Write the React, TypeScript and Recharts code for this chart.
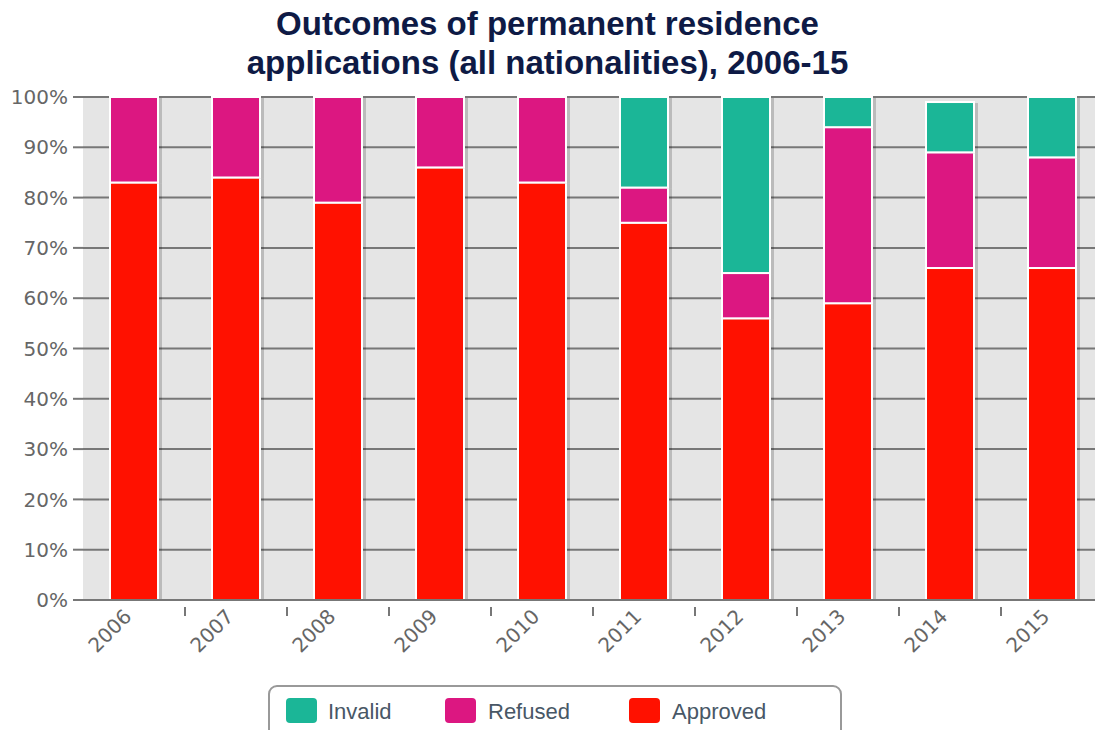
import React from 'react'
import { BarChart, Bar, XAxis, YAxis, CartesianGrid } from 'recharts'

// values, percent of applications
const years = ['2006', '2007', '2008', '2009', '2010', '2011', '2012', '2013', '2014', '2015']
const approved = [83, 84, 79, 86, 83, 75, 56, 59, 66, 66]
const refused = [17, 16, 21, 14, 17, 7, 9, 35, 23, 22]
const invalid = [0, 0, 0, 0, 0, 18, 35, 6, 10, 12]
const yTicks = [0, 10, 20, 30, 40, 50, 60, 70, 80, 90, 100]

const chartData = years.map((year, i) => ({
  year,
  approved: approved[i],
  refused: refused[i],
  invalid: invalid[i],
}))

const W = 1095
const H = 730
// the plot runs a little past the right edge of the picture
const chartW = 1103
const plotLeft = 83
const band = (chartW - plotLeft) / years.length

const colors = {
  invalid: '#1bb697',
  refused: '#dc1781',
  approved: '#ff1100',
}

const legendItems = [
  { key: 'invalid', label: 'Invalid', left: 286, textLeft: 328 },
  { key: 'refused', label: 'Refused', left: 445, textLeft: 488 },
  { key: 'approved', label: 'Approved', left: 629, textLeft: 672 },
]

const ShadowBar = (props: any) => {
  const { x, y, width, height, fill } = props
  if (!height || height <= 0) return null
  return (
    <g>
      <rect x={x + 2} y={y + 1} width={width + 2} height={height} fill="rgba(0,0,0,0.18)" />
      <rect x={x} y={y} width={width} height={height} fill={fill} stroke="#fff" strokeWidth={2} />
    </g>
  )
}

const YearTick = (props: any) => {
  const { x, y, payload, index } = props
  const bx = x + band / 2
  const tx = x - 12
  const ty = y - 1
  return (
    <g>
      {index < years.length - 1 && (
        <line x1={bx} y1={y - 1} x2={bx} y2={y + 8} stroke="#777" strokeWidth={2} />
      )}
      <text
        x={tx}
        y={ty}
        textAnchor="end"
        dominantBaseline="hanging"
        fill="#666"
        fontSize={20}
        fontFamily="DejaVu Sans"
        transform={`rotate(-45, ${tx}, ${ty})`}
      >
        {payload.value}
      </text>
    </g>
  )
}

export default function App() {
  return (
    <div style={{ position: 'absolute', left: 0, top: 0, width: W, height: H, background: '#fff', overflow: 'hidden' }}>
      <div
        style={{
          position: 'absolute',
          left: 0,
          top: 4,
          width: W,
          textAlign: 'center',
          fontFamily: 'Liberation Sans, Arial, sans-serif',
          fontWeight: 'bold',
          fontSize: 33,
          lineHeight: '39px',
          color: '#0e1a45',
        }}
      >
        Outcomes of permanent residence
        <br />
        applications (all nationalities), 2006-15
      </div>

      <div style={{ position: 'absolute', left: 0, top: 0 }}>
        <BarChart
          width={chartW}
          height={H}
          data={chartData}
          margin={{ top: 97, right: 0, left: 0, bottom: 70 }}
          barSize={48}
        >
          <CartesianGrid vertical={false} stroke="#777" strokeWidth={2} fill="#e5e5e5" />
          <XAxis
            dataKey="year"
            height={60}
            axisLine={{ stroke: '#777', strokeWidth: 2 }}
            tickLine={false}
            tick={<YearTick />}
            interval={0}
          />
          <YAxis
            width={plotLeft}
            domain={[0, 100]}
            ticks={yTicks}
            tickFormatter={(v: number) => `${v}%`}
            axisLine={false}
            tickSize={10}
            tickMargin={5}
            tickLine={{ stroke: '#777', strokeWidth: 2 }}
            tick={{ fill: '#666', fontSize: 20, fontFamily: 'DejaVu Sans' }}
          />
          <Bar dataKey="approved" stackId="a" fill={colors.approved} shape={<ShadowBar />} isAnimationActive={false} />
          <Bar dataKey="refused" stackId="a" fill={colors.refused} shape={<ShadowBar />} isAnimationActive={false} />
          <Bar dataKey="invalid" stackId="a" fill={colors.invalid} shape={<ShadowBar />} isAnimationActive={false} />
        </BarChart>
      </div>

      <div
        style={{
          position: 'absolute',
          left: 268,
          top: 685,
          width: 574,
          height: 60,
          border: '2px solid #999',
          borderRadius: 9,
          boxSizing: 'border-box',
        }}
      />
      {legendItems.map((item) => (
        <React.Fragment key={item.key}>
          <div
            style={{
              position: 'absolute',
              left: item.left,
              top: 698,
              width: 31,
              height: 25,
              borderRadius: 4,
              background: (colors as any)[item.key],
            }}
          />
          <div
            style={{
              position: 'absolute',
              left: item.textLeft,
              top: 696,
              fontFamily: 'Liberation Sans, Arial, sans-serif',
              fontSize: 22,
              lineHeight: '32px',
              color: '#485766',
            }}
          >
            {item.label}
          </div>
        </React.Fragment>
      ))}
    </div>
  )
}
